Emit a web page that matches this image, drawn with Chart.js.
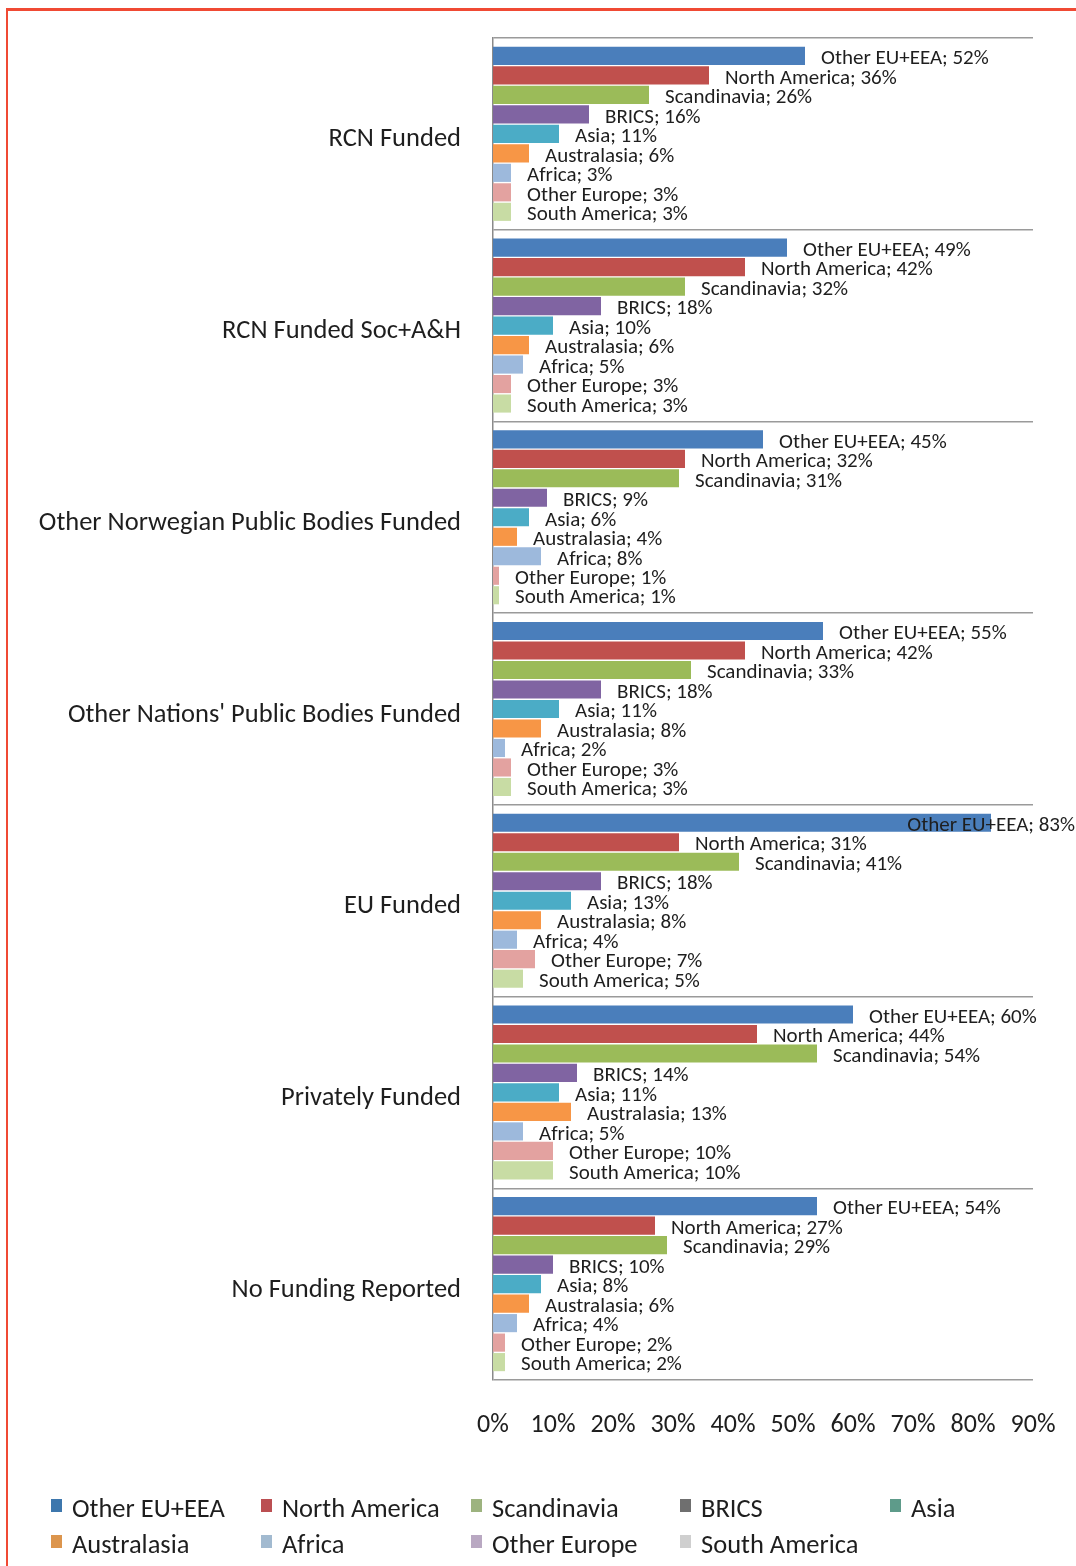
<!DOCTYPE html>
<html>
<head>
<meta charset="utf-8">
<script src="https://cdn.jsdelivr.net/npm/chart.js@4.4.1/dist/chart.umd.min.js"></script>
<style>
  html, body { margin: 0; padding: 0; background: #ffffff; }
  #wrap { position: relative; width: 1076px; height: 1566px; overflow: hidden; }
  #frame { position: absolute; left: 6px; top: 8px; right: -10px; bottom: -10px;
           border-top: 3px solid #f04a34; border-left: 2px solid #f04a34; pointer-events: none; }
  canvas { position: absolute; left: 0; top: 0; }
</style>
</head>
<body>
<div id="wrap">
  <canvas id="c" width="1076" height="1566"></canvas>
  <div id="frame"></div>
</div>
<script>
const categories = [
  "RCN Funded",
  "RCN Funded Soc+A&H",
  "Other Norwegian Public Bodies Funded",
  "Other Nations' Public Bodies Funded",
  "EU Funded",
  "Privately Funded",
  "No Funding Reported"
];
const seriesNames = ["Other EU+EEA", "North America", "Scandinavia", "BRICS", "Asia", "Australasia", "Africa", "Other Europe", "South America"];
const otherEuEea    = [52, 49, 45, 55, 83, 60, 54];
const northAmerica  = [36, 42, 32, 42, 31, 44, 27];
const scandinavia   = [26, 32, 31, 33, 41, 54, 29];
const brics         = [16, 18, 9, 18, 18, 14, 10];
const asia          = [11, 10, 6, 11, 13, 11, 8];
const australasia   = [6, 6, 4, 8, 8, 13, 6];
const africa        = [3, 5, 8, 2, 4, 5, 4];
const otherEurope   = [3, 3, 1, 3, 7, 10, 2];
const southAmerica  = [3, 3, 1, 3, 5, 10, 2];
const tickValues    = [0, 10, 20, 30, 40, 50, 60, 70, 80, 90];

const seriesValues = [otherEuEea, northAmerica, scandinavia, brics, asia, australasia, africa, otherEurope, southAmerica];
const barColors = ["#4a7ebb", "#c0504d", "#9bbb59", "#8064a2", "#4bacc6", "#f79646", "#9db9dc", "#e3a2a0", "#c8dca4"];
const legendColors = ["#3d77ad", "#bb4f52", "#9db37f", "#6f6f6f", "#5e9b8a", "#dc954d", "#a2bad0", "#b9a8c2", "#cfcfcf"];

const FONT = "Carlito, Lato, 'Open Sans', sans-serif";

const datasets = seriesNames.map((name, i) => ({
  label: name,
  data: seriesValues[i],
  backgroundColor: barColors[i],
  borderWidth: 0,
  categoryPercentage: 0.915,
  barPercentage: 0.93
}));

const labelPlugin = {
  id: 'barLabels',
  afterDatasetsDraw(chart) {
    const ctx = chart.ctx;
    ctx.save();
    ctx.font = "21px " + FONT;
    ctx.fillStyle = "#1e1e1e";
    ctx.textBaseline = "middle";
    ctx.textAlign = "left";
    chart.data.datasets.forEach((ds, di) => {
      const meta = chart.getDatasetMeta(di);
      meta.data.forEach((bar, i) => {
        const txt = ds.label + "; " + ds.data[i] + "%";
        const w = ctx.measureText(txt).width;
        let x = bar.x + 16;
        if (x + w > chart.width - 1) x = chart.width - 1 - w;
        ctx.fillText(txt, x, bar.y + 3);
      });
    });
    ctx.restore();
  }
};

const legendPlugin = {
  id: 'gridLegend',
  afterDraw(chart) {
    const ctx = chart.ctx;
    ctx.save();
    ctx.font = "26.5px " + FONT;
    ctx.textBaseline = "middle";
    ctx.textAlign = "left";
    const cols = [51, 261, 471, 680, 890];
    const rows = [1510, 1546];
    chart.data.datasets.forEach((ds, i) => {
      const r = i < 5 ? 0 : 1;
      const c = i < 5 ? i : i - 5;
      const x = cols[c], y = rows[r];
      ctx.fillStyle = legendColors[i];
      ctx.fillRect(x, y - 11, 11, 13);
      ctx.fillStyle = "#1e1e1e";
      ctx.fillText(ds.label, x + 21, y);
    });
    ctx.restore();
  }
};

new Chart(document.getElementById('c'), {
  type: 'bar',
  data: { labels: categories, datasets },
  options: {
    indexAxis: 'y',
    responsive: false,
    animation: false,
    layout: { padding: { left: 0, right: 43, top: 38, bottom: 126 } },
    plugins: {
      legend: { display: false },
      tooltip: { enabled: false }
    },
    scales: {
      x: {
        min: 0, max: 90,
        afterBuildTicks(scale) { scale.ticks = tickValues.map(v => ({ value: v })); },
        afterFit(scale) { scale.height = 60; scale.paddingLeft = 0; scale.paddingRight = 0; },
        grid: { display: false, drawTicks: false },
        border: { display: false },
        ticks: {
          padding: 30,
          color: "#1e1e1e",
          font: { family: FONT, size: 26 },
          maxRotation: 0,
          callback: v => v + "%"
        }
      },
      y: {
        afterFit(scale) { scale.width = 493; scale.paddingTop = 0; scale.paddingBottom = 0; },
        grid: { display: true, offset: true, color: "#9a9a9a", lineWidth: 1.5, drawTicks: false },
        border: { display: true, color: "#8a8a8a", width: 1.5 },
        ticks: {
          padding: 32,
          labelOffset: 6,
          color: "#1e1e1e",
          font: { family: FONT, size: 26.5 }
        }
      }
    }
  },
  plugins: [labelPlugin, legendPlugin]
});
</script>
</body>
</html>
